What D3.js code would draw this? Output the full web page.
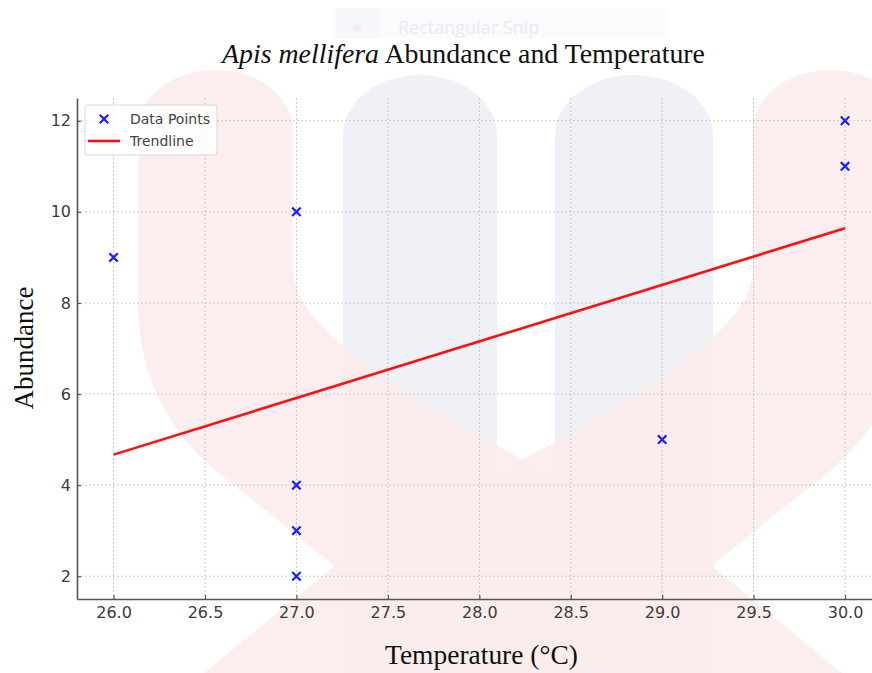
<!DOCTYPE html>
<html><head><meta charset="utf-8">
<script src="https://cdn.jsdelivr.net/npm/d3@7"></script>
<style>body{margin:0;background:#fff}svg{display:block}</style>
</head><body>
<svg id="chart" width="872" height="673"></svg>
<script>
// ---- data ----
const temperature = [26, 27, 27, 27, 27, 29, 30, 30];
const abundance   = [9, 10, 4, 3, 2, 5, 12, 11];
const trendTemp   = [26, 30];
const trendAbund  = [4.67, 9.64];
const xTicks = [26.0, 26.5, 27.0, 27.5, 28.0, 28.5, 29.0, 29.5, 30.0];
const yTicks = [2, 4, 6, 8, 10, 12];
const titleItalic = "Apis mellifera";
const titleRest = " Abundance and Temperature";
const xLabel = "Temperature (°C)";
const yLabel = "Abundance";
const legendLabels = ["Data Points", "Trendline"];

(function () {
const svg = d3.select("#chart");

// ---- faint background watermark (screen-capture overlay) ----
const wm = svg.append("g");
const blue = "#eff1f6", pink = "#fceded";
function column(x0, x1, yTop, yBot) {
  const r = (x1 - x0) / 2;
  return `M${x0},${yBot} L${x0},${yTop + 60} A${r},60 0 0 1 ${x1},${yTop + 60} L${x1},${yBot} Z`;
}
wm.append("path").attr("d", column(343, 497, 75, 673)).attr("fill", blue);
wm.append("path").attr("d", column(555, 713, 75, 673)).attr("fill", blue);
const armPath = "M138,300 L138,130 A77.5,60 0 0 1 293,130 L293,270 C293,360 560,470 713,567 L842,673 L468,673 L240,490 C170,440 138,380 138,300 Z";
wm.append("path").attr("d", armPath).attr("fill", pink).attr("fill-opacity", 0.92);
wm.append("path").attr("d", armPath).attr("fill", pink).attr("fill-opacity", 0.92).attr("transform", "translate(1046,0) scale(-1,1)");
// snip popup
wm.append("rect").attr("x", 335).attr("y", 8).attr("width", 333).attr("height", 30).attr("fill", "#fafbfd");
wm.append("rect").attr("x", 335).attr("y", 8).attr("width", 45).attr("height", 30).attr("fill", "#f5f7fb");
wm.append("circle").attr("cx", 357).attr("cy", 28).attr("r", 4).attr("fill", "#f6eaec");
wm.append("text").attr("x", 398).attr("y", 34).attr("font-family", "'Open Sans', 'Noto Sans', sans-serif")
  .attr("font-size", 18).attr("fill", "#e8ebf1").text("Rectangular Snip");

// ---- scales ----
const pL = 77, pR = 881.6, pT = 98, pB = 599;
const x = d3.scaleLinear().domain([25.8, 30.2]).range([pL, pR]);
const y = d3.scaleLinear().domain([1.5, 12.5]).range([pB, pT]);

// grid
const grid = svg.append("g").attr("stroke", "#c4c4c4").attr("stroke-width", 0.9).attr("stroke-dasharray", "2,2");
grid.selectAll("line.v").data(xTicks).join("line").attr("class", "v")
  .attr("x1", d => x(d)).attr("x2", d => x(d)).attr("y1", pT).attr("y2", pB);
grid.selectAll("line.h").data(yTicks).join("line").attr("class", "h")
  .attr("x1", pL).attr("x2", pR).attr("y1", d => y(d)).attr("y2", d => y(d));

// axes
const xAxis = svg.append("g").attr("transform", `translate(0,${pB})`)
  .call(d3.axisBottom(x).tickValues(xTicks).tickFormat(d3.format(".1f")).tickSizeInner(-4).tickSizeOuter(0).tickPadding(8));
const yAxis = svg.append("g").attr("transform", `translate(${pL},0)`)
  .call(d3.axisLeft(y).tickValues(yTicks).tickFormat(d3.format("d")).tickSizeInner(-4).tickSizeOuter(0).tickPadding(6));
[xAxis, yAxis].forEach(a => {
  a.select(".domain").attr("stroke", "#555").attr("stroke-width", 1.6);
  a.selectAll(".tick line").attr("stroke", "#555").attr("stroke-width", 1.2);
  a.selectAll(".tick text").attr("font-family", "'DejaVu Sans', sans-serif").attr("font-size", 16).attr("fill", "#3c3c3c");
});

// trendline
svg.append("path")
  .datum(trendTemp.map((t, i) => [t, trendAbund[i]]))
  .attr("d", d3.line().x(d => x(d[0])).y(d => y(d[1])))
  .attr("stroke", "#ff1010").attr("stroke-width", 2.6).attr("fill", "none");

// points
const sym = d3.symbol().type(d3.symbolX).size(48);
svg.append("g").selectAll("path").data(temperature.map((t, i) => [t, abundance[i]])).join("path")
  .attr("d", sym).attr("transform", d => `translate(${x(d[0])},${y(d[1])})`)
  .attr("stroke", "#2020ff").attr("stroke-width", 2.2).attr("fill", "none");

// legend
const lg = svg.append("g");
lg.append("rect").attr("x", 85).attr("y", 105).attr("width", 132).attr("height", 50).attr("rx", 3)
  .attr("fill", "#fff").attr("fill-opacity", 0.8).attr("stroke", "#d6d6d6");
lg.append("path").attr("d", sym).attr("transform", "translate(104,119)")
  .attr("stroke", "#2020ff").attr("stroke-width", 2.2).attr("fill", "none");
lg.append("line").attr("x1", 88).attr("x2", 120).attr("y1", 141).attr("y2", 141)
  .attr("stroke", "#ff1010").attr("stroke-width", 2.6);
lg.selectAll("text").data(legendLabels).join("text")
  .attr("x", 130).attr("y", (d, i) => 119 + i * 22).attr("dy", "0.35em")
  .attr("font-family", "'DejaVu Sans', sans-serif").attr("font-size", 14).attr("fill", "#444").text(d => d);

// titles
function fit(sel, w) {
  const cur = sel.node().getComputedTextLength();
  const fs = parseFloat(sel.attr("font-size"));
  sel.attr("font-size", fs * w / cur);
}
const title = svg.append("text").attr("x", 463.5).attr("y", 63).attr("text-anchor", "middle")
  .attr("font-family", "'Liberation Serif', 'Times New Roman', serif").attr("font-size", 26).attr("fill", "#111");
title.append("tspan").attr("font-style", "italic").text(titleItalic);
title.append("tspan").text(titleRest);
fit(title, 483);

const xl = svg.append("text").attr("x", 481.5).attr("y", 664).attr("text-anchor", "middle")
  .attr("font-family", "'Liberation Serif', 'Times New Roman', serif").attr("font-size", 24).attr("fill", "#111").text(xLabel);
fit(xl, 193);
const yl = svg.append("text").attr("transform", "translate(33,348) rotate(-90)").attr("text-anchor", "middle")
  .attr("font-family", "'Liberation Serif', 'Times New Roman', serif").attr("font-size", 24).attr("fill", "#111").text(yLabel);
fit(yl, 123);
})();
</script>
</body></html>
